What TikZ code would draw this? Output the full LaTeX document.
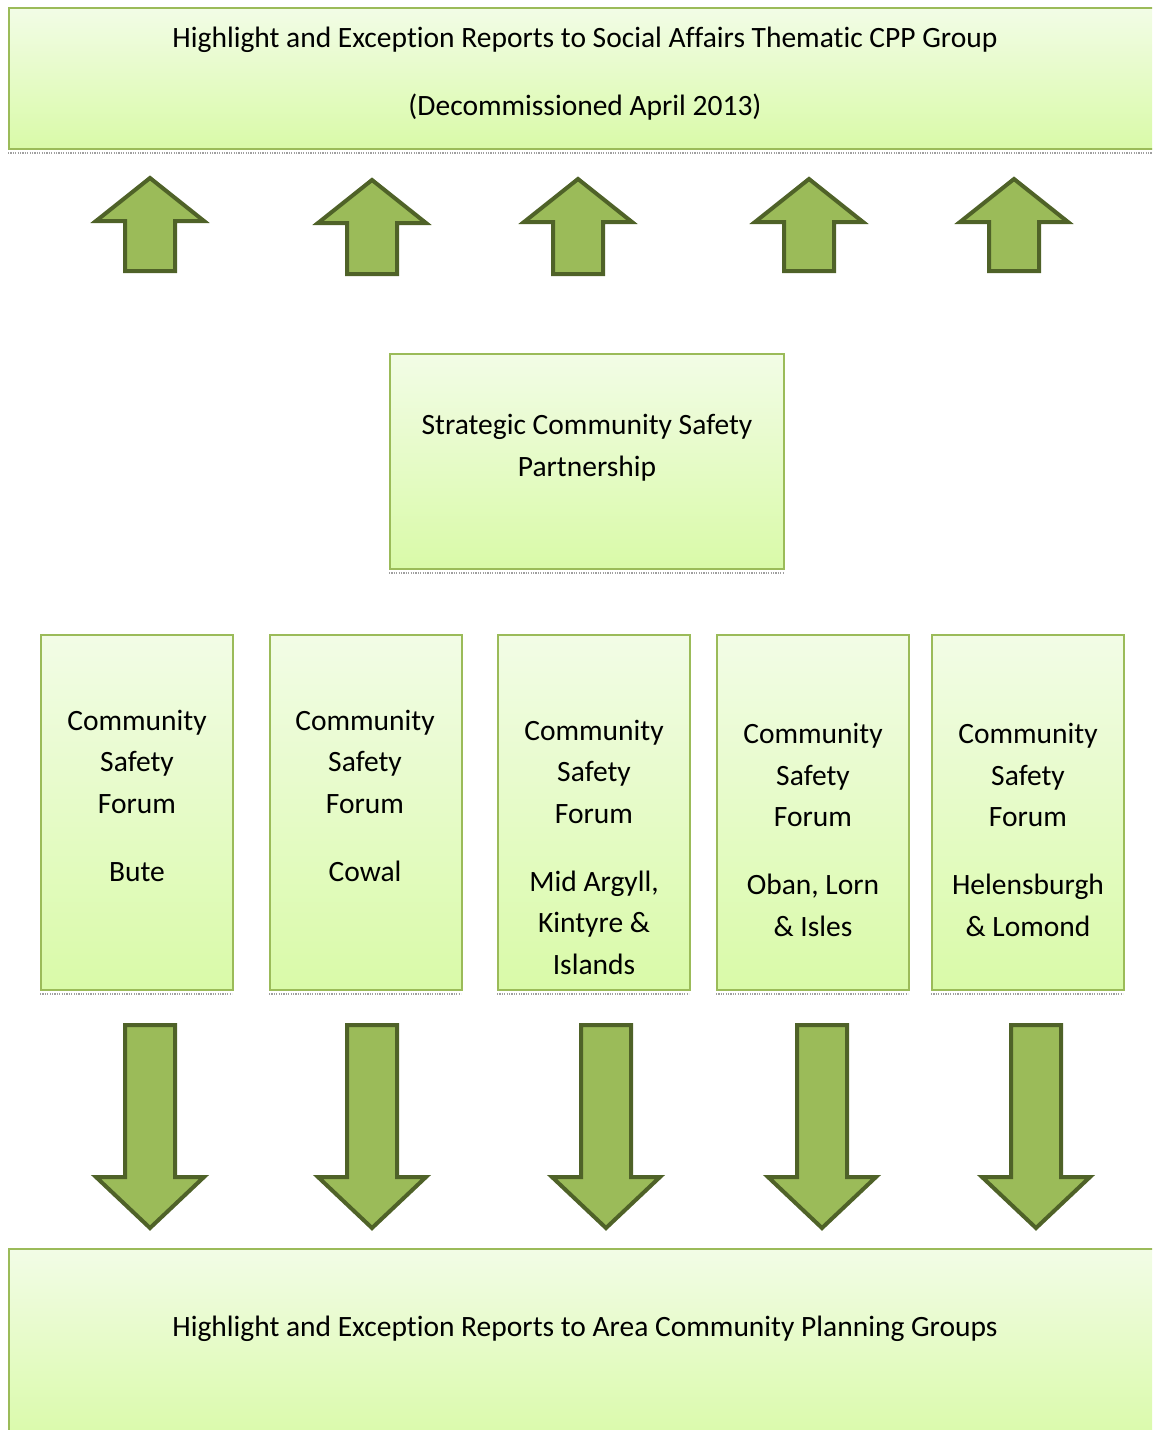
\documentclass[tikz,border=0pt]{standalone}
\usepackage{fontspec}
\setmainfont{Carlito}[Ligatures=NoCommon]
\usetikzlibrary{fit}
\definecolor{boxborder}{HTML}{9BBB59}
\definecolor{boxtop}{HTML}{F2FCE6}
\definecolor{boxbot}{HTML}{D9FAA8}
\definecolor{arrowfill}{HTML}{9BBB59}
\definecolor{arrowline}{HTML}{4F6228}
\tikzset{
  panel/.style={draw=boxborder, line width=1pt, top color=boxtop, bottom color=boxbot, inner sep=0pt},
  shadowline/.style={draw=gray!75, line width=1.2pt, dash pattern=on 0.6pt off 0.6pt},
  blockarrow/.style={fill=arrowfill, draw=arrowline, line width=2pt, line join=miter},
  boxtext/.style={align=center, anchor=base, inner sep=0pt, font=\fontsize{14.75}{20.75}\selectfont}
}
\begin{document}
\begin{tikzpicture}[x=0.5pt, y=-0.5pt]
\useasboundingbox (0,0) rectangle (1152,1430);
\clip (0,0) rectangle (1152,1430);
% boxes
\node[panel, fit={(9,8) (1170,149)}] (top) {};
\node[panel, fit={(390,354) (784,569)}] (strat) {};
\node[panel, fit={(41,635) (233,990)}] (f1) {};
\node[panel, fit={(270,635) (462,990)}] (f2) {};
\node[panel, fit={(498,635) (690,990)}] (f3) {};
\node[panel, fit={(717,635) (909,990)}] (f4) {};
\node[panel, fit={(932,635) (1124,990)}] (f5) {};
\node[panel, fit={(9,1249) (1170,1445)}] (bottom) {};
% shadow lines
\draw[shadowline] (top.south west) ++(0,3) -- ++(1160,0);
\draw[shadowline] (strat.south west) ++(0,3) -- ++(394,0);
\foreach \b in {f1,f2,f3,f4,f5}
  \draw[shadowline] (\b.south west) ++(0,3) -- ++(192,0);
% texts (base anchor = last line's baseline)
\node[boxtext] (ttop) at (585,115) {Highlight and Exception Reports to Social Affairs Thematic CPP Group\\[13.25pt](Decommissioned April 2013)};
\node[boxtext] (tstrat) at (587,476) {Strategic Community Safety\\Partnership};
\node[boxtext] (tf1) at (137,881) {Community\\Safety\\Forum\\[13.25pt]Bute};
\node[boxtext] (tf2) at (365,881) {Community\\Safety\\Forum\\[13.25pt]Cowal};
\node[boxtext] (tf3) at (594,974) {Community\\Safety\\Forum\\[13.25pt]Mid Argyll,\\Kintyre \&\\Islands};
\node[boxtext] (tf4) at (813,936) {Community\\Safety\\Forum\\[13.25pt]Oban, Lorn\\\& Isles};
\node[boxtext] (tf5) at (1028,936) {Community\\Safety\\Forum\\[13.25pt]Helensburgh\\\& Lomond};
\node[boxtext] (tbottom) at (585,1336) {Highlight and Exception Reports to Area Community Planning Groups};
% up arrows
\foreach \cx/\ty/\by in {150/178/271, 372/180/274, 578/179/274, 809/179/271, 1014/179/271}
  \draw[blockarrow] (\cx-25,\by) -- (\cx-25,\ty+43) -- (\cx-54,\ty+43) -- (\cx,\ty) -- (\cx+54,\ty+43) -- (\cx+25,\ty+43) -- (\cx+25,\by) -- cycle;
% down arrows
\foreach \cx in {150,372,606,822,1036}
  \draw[blockarrow] (\cx-25,1025) -- (\cx-25,1177) -- (\cx-54,1177) -- (\cx,1228) -- (\cx+54,1177) -- (\cx+25,1177) -- (\cx+25,1025) -- cycle;
\end{tikzpicture}
\end{document}
